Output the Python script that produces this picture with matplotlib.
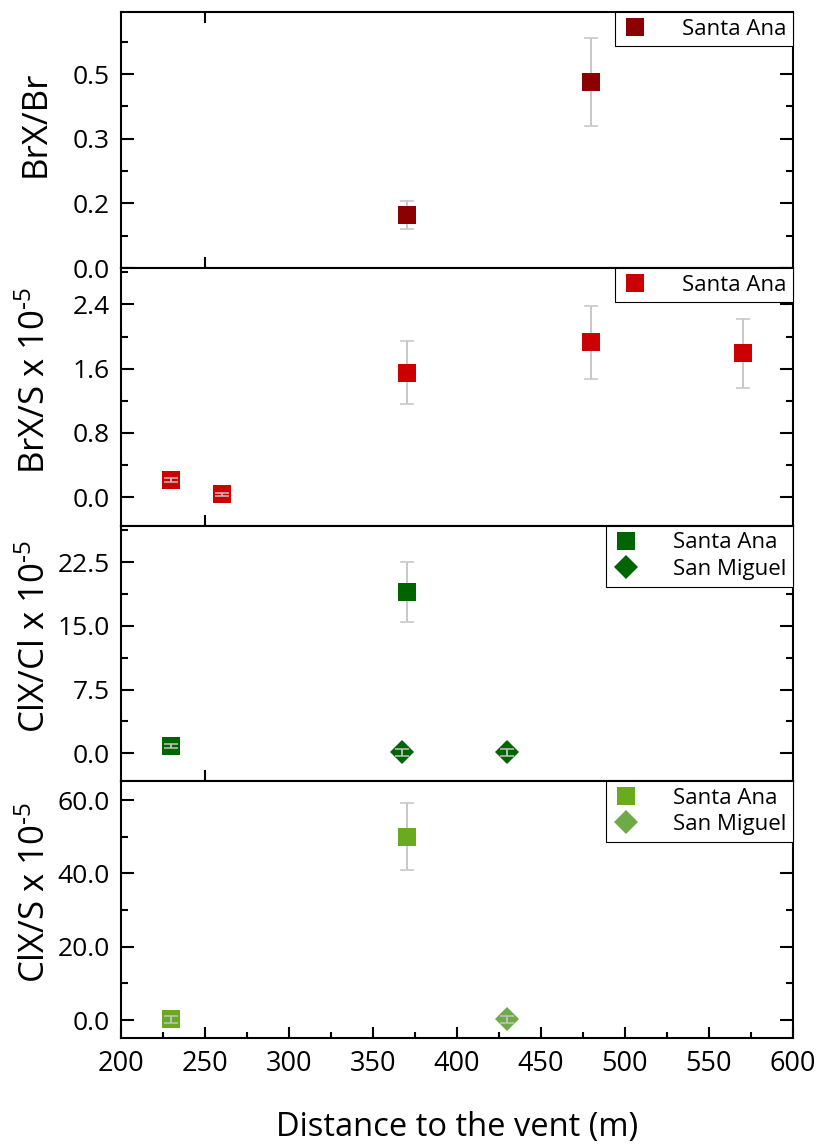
import matplotlib
matplotlib.use("Agg")
import matplotlib.pyplot as plt
from matplotlib.ticker import FixedLocator, FixedFormatter, MultipleLocator
import numpy as np

plt.rcParams['font.family'] = ['Open Sans', 'DejaVu Sans']
plt.rcParams['mathtext.fontset'] = 'custom'
plt.rcParams['mathtext.rm'] = 'Open Sans'
plt.rcParams['mathtext.it'] = 'Open Sans'
plt.rcParams['mathtext.bf'] = 'Open Sans'

# ---- data ----
x_label = "Distance to the vent (m)"
x_ticks = [200, 250, 300, 350, 400, 450, 500, 550, 600]

# BrX/Br
brbr_x = [370, 480]
brbr_y = [0.123, 0.431]
brbr_err = [0.032, 0.102]
brbr_ticks = [0.0, 0.15, 0.30, 0.45]
brbr_ticklabels = ["0.0", "0.2", "0.3", "0.5"]

# BrX/S x 1e-5
brs_x = [230, 260, 370, 480, 570]
brs_y = [0.215, 0.037, 1.55, 1.93, 1.79]
brs_err = [0.03, 0.02, 0.39, 0.455, 0.43]
brs_ticks = [0.0, 0.8, 1.6, 2.4]
brs_ticklabels = ["0.0", "0.8", "1.6", "2.4"]

# ClX/Cl x 1e-5
clcl_sa_x = [230, 370]
clcl_sa_y = [0.86, 19.0]
clcl_sa_err = [0.25, 3.5]
clcl_sm_x = [367, 430]
clcl_sm_y = [0.1, 0.12]
clcl_sm_err = [0.4, 0.4]
clcl_ticks = [0.0, 7.5, 15.0, 22.5]
clcl_ticklabels = ["0.0", "7.5", "15.0", "22.5"]

# ClX/S x 1e-5
cls_sa_x = [230, 370]
cls_sa_y = [0.2, 50.0]
cls_sa_err = [1.0, 9.2]
cls_sm_x = [430]
cls_sm_y = [0.2]
cls_sm_err = [1.0]
cls_ticks = [0.0, 20.0, 40.0, 60.0]
cls_ticklabels = ["0.0", "20.0", "40.0", "60.0"]

# ---- figure ----
W, H = 820, 1144
fig = plt.figure(figsize=(W / 100, H / 100), dpi=100)

left_px, right_px = 121, 793
edges_px = [12, 268, 525.7, 781, 1037.7]

def make_axes(i):
    top, bot = edges_px[i], edges_px[i + 1]
    return fig.add_axes([left_px / W, 1 - bot / H, (right_px - left_px) / W, (bot - top) / H])

ERR_COLOR = '#c4c4c4'
MS = 12.7
TICK_FS = 19
LABEL_FS = 25
XLABEL_FS = 23.5
LEG_FS = 16
EXP = "$^{\\mathregular{\u2010" + "5}}$"


def draw_series(ax, xs, ys, errs, color, marker, label):
    xs, ys, errs = np.asarray(xs), np.asarray(ys), np.asarray(errs)
    ax.plot(xs, ys, linestyle='none', marker=marker, ms=MS, mfc=color,
            mec=color, mew=0, zorder=2, label=label)
    ax.errorbar(xs, ys, yerr=errs, fmt='none', ecolor=ERR_COLOR, elinewidth=1.3,
                capsize=5, capthick=1.1, zorder=3)
    # keep symbols solid where the bar reaches beyond them
    span = ax.get_ylim()[1] - ax.get_ylim()[0]
    big = errs > 0.05 * span
    if big.any():
        ax.plot(xs[big], ys[big], linestyle='none', marker=marker, ms=MS,
                mfc=color, mec=color, mew=0, zorder=4)


def style_axes(ax, ylim, ticks, ticklabels, minor_step, ylabel, bottom_panel=False, top_tick=False):
    ax.set_xlim(200, 600)
    ax.set_ylim(*ylim)
    ax.yaxis.set_major_locator(FixedLocator(ticks))
    ax.yaxis.set_major_formatter(FixedFormatter(ticklabels))
    ax.yaxis.set_minor_locator(MultipleLocator(minor_step))
    for sp in ax.spines.values():
        sp.set_linewidth(1.5)
    ax.tick_params(axis='y', which='both', direction='in', left=True, right=True,
                   labelsize=TICK_FS, pad=8, width=1.5)
    ax.tick_params(axis='y', which='major', length=9.5)
    ax.tick_params(axis='y', which='minor', length=5)
    if bottom_panel:
        ax.xaxis.set_major_locator(FixedLocator(x_ticks))
        ax.xaxis.set_minor_locator(MultipleLocator(25))
        ax.tick_params(axis='x', which='both', direction='in', bottom=True, top=False,
                       labelsize=TICK_FS + 0.5, pad=9, width=1.5)
        ax.tick_params(axis='x', which='major', length=8)
        ax.tick_params(axis='x', which='minor', length=4)
    else:
        ax.xaxis.set_major_locator(FixedLocator([250]))
        ax.xaxis.set_minor_locator(FixedLocator([]))
        ax.tick_params(axis='x', which='both', direction='in', bottom=True, top=top_tick,
                       labelbottom=False, length=8, width=1.5)
    ax.set_ylabel(ylabel, fontsize=LABEL_FS, va='center', ha='center')
    ax.yaxis.set_label_coords(-0.127, 0.565)


def add_legend(ax):
    leg = ax.legend(loc='upper right', bbox_to_anchor=(1.0, 1.0), borderaxespad=0,
                    frameon=True, fancybox=False, framealpha=1, edgecolor='black',
                    fontsize=LEG_FS, handlelength=1.2, handletextpad=1.5,
                    borderpad=0.3, labelspacing=0.25, markerscale=1.0)
    leg.get_frame().set_linewidth(0.8)
    leg.set_zorder(10)


# Panel 1: BrX/Br
ax1 = make_axes(0)
style_axes(ax1, (0, 0.594), brbr_ticks, brbr_ticklabels, 0.075, "BrX/Br", top_tick=True)
draw_series(ax1, brbr_x, brbr_y, brbr_err, '#8b0000', 's', 'Santa Ana')
add_legend(ax1)

# Panel 2: BrX/S
ax2 = make_axes(1)
style_axes(ax2, (-0.353, 2.852), brs_ticks, brs_ticklabels, 0.4, "BrX/S x 10" + EXP)
draw_series(ax2, brs_x, brs_y, brs_err, '#cc0000', 's', 'Santa Ana')
add_legend(ax2)

# Panel 3: ClX/Cl
ax3 = make_axes(2)
style_axes(ax3, (-3.26, 26.8), clcl_ticks, clcl_ticklabels, 3.75, "ClX/Cl x 10" + EXP)
draw_series(ax3, clcl_sa_x, clcl_sa_y, clcl_sa_err, '#006400', 's', 'Santa Ana')
draw_series(ax3, clcl_sm_x, clcl_sm_y, clcl_sm_err, '#006400', 'D', 'San Miguel')
add_legend(ax3)

# Panel 4: ClX/S
ax4 = make_axes(3)
style_axes(ax4, (-4.8, 65.2), cls_ticks, cls_ticklabels, 10, "ClX/S x 10" + EXP,
           bottom_panel=True)
draw_series(ax4, cls_sa_x, cls_sa_y, cls_sa_err, '#6aaa1e', 's', 'Santa Ana')
draw_series(ax4, cls_sm_x, cls_sm_y, cls_sm_err, '#6eab46', 'D', 'San Miguel')
add_legend(ax4)
ax4.set_xlabel(x_label, fontsize=XLABEL_FS, va='center')
ax4.xaxis.set_label_coords(0.5, -0.35)

fig.savefig("out.png", dpi=100, facecolor='white')
